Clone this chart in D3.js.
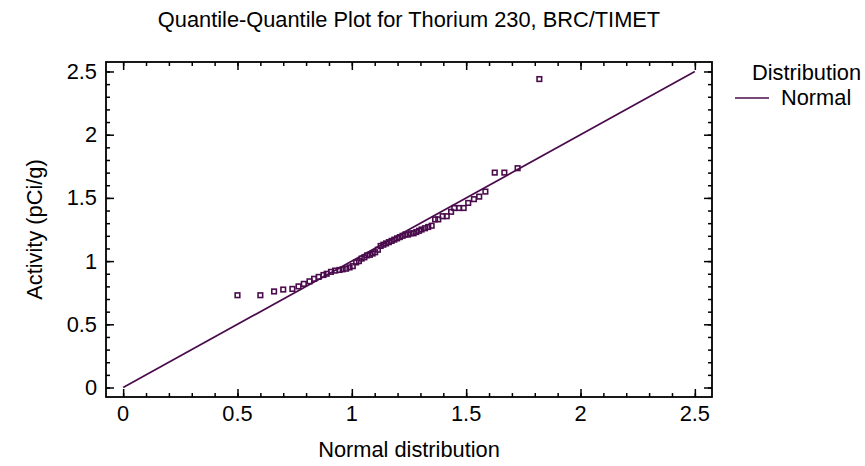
<!DOCTYPE html>
<html><head><meta charset="utf-8">
<script src="https://cdn.jsdelivr.net/npm/d3@7"></script>
<style>body{margin:0;background:#fff}svg{display:block}text{font-family:"Liberation Sans",Arial,sans-serif;fill:#000}</style>
</head><body><svg id="c" width="865" height="466"></svg>
<script>
const titleText = "Quantile-Quantile Plot for Thorium 230, BRC/TIMET";
const xLabel = "Normal distribution";
const yLabel = "Activity (pCi/g)";
const legendTitle = "Distribution";
const legendItems = ["Normal"];
const xTicks = [0, 0.5, 1, 1.5, 2, 2.5];
const yTicks = [0, 0.5, 1, 1.5, 2, 2.5];
const xTickLabels = ["0", "0.5", "1", "1.5", "2", "2.5"];
const yTickLabels = ["0", "0.5", "1", "1.5", "2", "2.5"];
const normalQuantiles = [0.50,0.60,0.66,0.70,0.74,0.767,0.79,0.815,0.835,0.855,0.876,0.89,0.909,0.927,0.946,0.96,0.975,0.99,1.004,1.019,1.031,1.043,1.055,1.067,1.079,1.091,1.102,1.114,1.126,1.138,1.150,1.162,1.174,1.186,1.198,1.210,1.222,1.234,1.246,1.258,1.270,1.282,1.294,1.305,1.32,1.334,1.349,1.364,1.378,1.397,1.415,1.434,1.448,1.469,1.489,1.509,1.534,1.557,1.584,1.625,1.667,1.725,1.82];
const activity = [0.73,0.73,0.76,0.775,0.78,0.80,0.82,0.84,0.86,0.875,0.89,0.90,0.915,0.925,0.93,0.935,0.94,0.95,0.96,0.99,1.00,1.02,1.03,1.045,1.05,1.06,1.07,1.09,1.12,1.13,1.14,1.15,1.16,1.17,1.18,1.19,1.20,1.21,1.21,1.22,1.22,1.23,1.24,1.25,1.26,1.27,1.28,1.33,1.33,1.355,1.355,1.39,1.42,1.42,1.42,1.46,1.49,1.51,1.55,1.70,1.70,1.735,2.44];
const refLine = [[0,0],[2.5,2.5]];
const xDomain = [-0.075, 2.575];
const yDomain = [-0.075, 2.575];

const col = "#4a0c4c";
const fs = "21.8px";
const svg = d3.select("#c");
const L = 106, R = 712, T = 62, B = 397;
const x = d3.scaleLinear().domain(xDomain).range([L, R]);
const y = d3.scaleLinear().domain(yDomain).range([B, T]);
const minor = d3.range(0, 2.5001, 0.1).map(v => +v.toFixed(2));

// reference line
svg.append("clipPath").attr("id", "clip").append("rect").attr("x", L).attr("y", T).attr("width", R - L).attr("height", B - T);
svg.append("path").datum(refLine).attr("clip-path", "url(#clip)")
  .attr("d", d3.line().x(d => x(d[0])).y(d => y(d[1])))
  .attr("stroke", col).attr("stroke-width", 1.7).attr("fill", "none");

// points
const pts = normalQuantiles.map((q, i) => [q, activity[i]]);
svg.append("g").selectAll("rect").data(pts).join("rect")
  .attr("x", d => x(d[0]) - 2.3).attr("y", d => y(d[1]) - 2.3)
  .attr("width", 4.6).attr("height", 4.6)
  .attr("fill", "none").attr("stroke", col).attr("stroke-width", 1.6);

// axes (inward ticks) on all four sides
function ax(gen, tf, vals, size) {
  const g = svg.append("g").attr("transform", tf)
    .call(gen.tickValues(vals).tickSize(size).tickFormat(""));
  g.select(".domain").remove();
  g.selectAll("line").attr("stroke", "#000").attr("stroke-width", 1.5);
  return g;
}
ax(d3.axisBottom(x), `translate(0,${B})`, minor, -4);
ax(d3.axisBottom(x), `translate(0,${B})`, xTicks, -8);
ax(d3.axisTop(x), `translate(0,${T})`, minor, -4);
ax(d3.axisTop(x), `translate(0,${T})`, xTicks, -8);
ax(d3.axisLeft(y), `translate(${L},0)`, minor, -4);
ax(d3.axisLeft(y), `translate(${L},0)`, yTicks, -8);
ax(d3.axisRight(y), `translate(${R},0)`, minor, -4);
ax(d3.axisRight(y), `translate(${R},0)`, yTicks, -8);

svg.append("rect").attr("x", L).attr("y", T).attr("width", R - L).attr("height", B - T)
  .attr("fill", "none").attr("stroke", "#000").attr("stroke-width", 1.8);

// tick labels
svg.append("g").selectAll("text").data(xTicks).join("text")
  .attr("x", d => x(d)).attr("y", 421).attr("text-anchor", "middle").style("font-size", fs)
  .text((d, i) => xTickLabels[i]);
svg.append("g").selectAll("text").data(yTicks).join("text")
  .attr("x", 97).attr("y", d => y(d) + 7.5).attr("text-anchor", "end").style("font-size", fs)
  .text((d, i) => yTickLabels[i]);

// titles
svg.append("text").attr("x", 409).attr("y", 27).attr("text-anchor", "middle").style("font-size", fs).text(titleText);
svg.append("text").attr("x", 409).attr("y", 457).attr("text-anchor", "middle").style("font-size", fs).text(xLabel);
svg.append("text").attr("transform", "translate(42,229.5) rotate(-90)").attr("text-anchor", "middle").style("font-size", fs).text(yLabel);

// legend
svg.append("text").attr("x", 752).attr("y", 80).style("font-size", fs).text(legendTitle);
legendItems.forEach((t, i) => {
  svg.append("line").attr("x1", 735).attr("x2", 769).attr("y1", 98 + i * 24).attr("y2", 98 + i * 24)
    .attr("stroke", col).attr("stroke-width", 1.7);
  svg.append("text").attr("x", 781).attr("y", 105 + i * 24).style("font-size", fs).text(t);
});
</script></body></html>
